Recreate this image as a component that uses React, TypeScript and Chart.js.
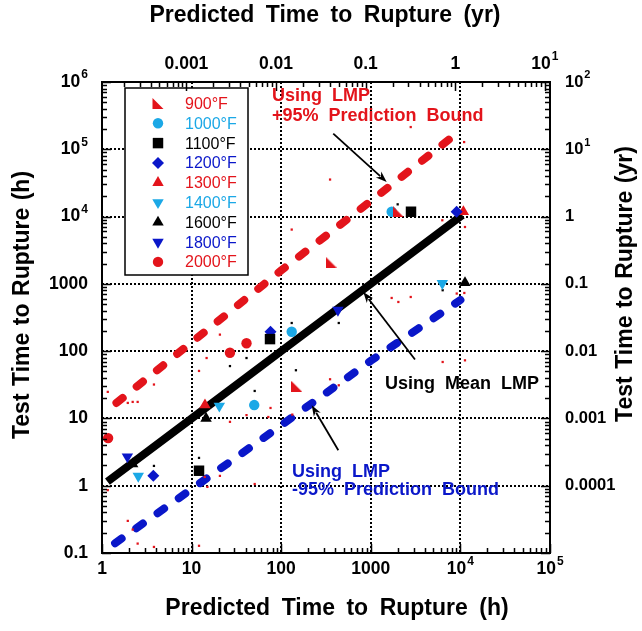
import React, { useEffect, useRef } from "react";
import { Chart, registerables } from "chart.js";

Chart.register(...registerables);

const HOURS_PER_YEAR = 8760;

const RED = "#e3141b";
const CYAN = "#1ba8e6";
const BLUE = "#0a17c9";
const BLACK = "#000000";
const FONT = '"Liberation Sans", Arial, Helvetica, sans-serif';

// Mean LMP line and the +/-95% prediction bounds (predicted h -> test h)
const meanPredicted = [1.15, 10, 100, 1000, 10500];
const meanTest = [1.15, 10, 100, 1000, 10500];
const upperPredicted = [1.45, 10, 100, 1000, 10000];
const upperTest = [17, 135, 1585, 17000, 190000];
const lowerPredicted = [1.4, 10, 100, 1000, 10000];
const lowerTest = [0.14, 0.89, 7.9, 72, 575];

// Rupture tests by temperature: predicted time (h) and test time (h)
const temperatures = ["900°F", "1000°F", "1100°F", "1200°F", "1300°F", "1400°F", "1600°F", "1800°F", "2000°F"];
const pred900 = [149, 2030, 360];
const test900 = [30, 11800, 2100];
const pred1000 = [131, 50, 1710];
const test1000 = [194, 15.8, 11800];
const pred1100 = [75, 12.1, 2810];
const test1100 = [151, 1.67, 11800];
const pred1200 = [76, 3.74, 9080];
const test1200 = [194, 1.41, 11800];
const pred1300 = [14.1, 10800];
const test1300 = [15.8, 11800];
const pred1400 = [20.4, 2.54, 6280];
const test1400 = [15.3, 1.39, 1016];
const pred1600 = [14.5, 2.2, 11250];
const test1600 = [10, 2.1, 1037];
const pred1800 = [430, 1.92];
const test1800 = [408, 2.7];
const pred2000 = [41, 26.8, 1.17];
const test2000 = [131, 94.6, 5.1];

// Small companion points
const smallRedPredicted = [2790, 351, 131, 11000, 6280, 11250, 20.7, 14.7, 12.1, 3.8, 1.94, 2.2, 2.5, 76, 41, 71.8, 26.8, 351, 439, 133, 20.7, 15, 50.6, 1.94, 2.2, 2.5, 3.8, 12.1, 14, 1710, 2030, 2790, 9100, 11060, 6340, 11250, 1.16, 1.16];
const smallRedTest = [214000, 35500, 6410, 128000, 8810, 7000, 176, 79, 50.8, 31.9, 17, 17.6, 17.6, 14.3, 11.2, 10.5, 8.9, 38.2, 31.1, 11.4, 1.4, 0.96, 1.06, 0.3, 0.223, 0.138, 0.123, 0.128, 1.35, 617, 538, 638, 718, 732, 69, 73, 24.8, 0.86];
const smallBlackPredicted = [1995, 131, 439, 41, 26.8, 146, 50.6, 12.1, 3.8, 6340];
const smallBlackTest = [15200, 262, 262, 79, 60, 52, 25.6, 2.59, 1.97, 804];

// Axis labels
const hourTicks = [1, 10, 100, 1000, 1e4, 1e5];
const hourTickLabels = ["1", "10", "100", "1000", "10^4", "10^5"];
const testTicks = [0.1, 1, 10, 100, 1000, 1e4, 1e5, 1e6];
const testTickLabels = ["0.1", "1", "10", "100", "1000", "10^4", "10^5", "10^6"];
const yearTopTicks = [0.001, 0.01, 0.1, 1, 10];
const yearTopTickLabels = ["0.001", "0.01", "0.1", "1", "10^1"];
const yearRightTicks = [1e-4, 1e-3, 0.01, 0.1, 1, 10, 100];
const yearRightTickLabels = ["0.0001", "0.001", "0.01", "0.1", "1", "10^1", "10^2"];

type Shape = "corner" | "circle" | "rect" | "diamond" | "up" | "down";
const seriesPredicted = [pred900, pred1000, pred1100, pred1200, pred1300, pred1400, pred1600, pred1800, pred2000];
const seriesTest = [test900, test1000, test1100, test1200, test1300, test1400, test1600, test1800, test2000];
const seriesColors = [RED, CYAN, BLACK, BLUE, RED, CYAN, BLACK, BLUE, RED];
const seriesShapes: Shape[] = ["corner", "circle", "rect", "diamond", "up", "down", "up", "down", "circle"];

const pts = (xs: number[], ys: number[]) => xs.map((x, i) => ({ x, y: ys[i] }));

function cornerTriangle(color: string, s = 11) {
  const c = document.createElement("canvas");
  c.width = s;
  c.height = s;
  const g = c.getContext("2d")!;
  g.fillStyle = color;
  g.beginPath();
  g.moveTo(0, 0);
  g.lineTo(0, s);
  g.lineTo(s, s);
  g.closePath();
  g.fill();
  return c;
}

function markerStyle(shape: Shape, color: string) {
  switch (shape) {
    case "corner":
      return { pointStyle: cornerTriangle(color), pointRadius: 5, pointRotation: 0 };
    case "circle":
      return { pointStyle: "circle", pointRadius: 5.2, pointRotation: 0 };
    case "rect":
      return { pointStyle: "rect", pointRadius: 7.4, pointRotation: 0 };
    case "diamond":
      return { pointStyle: "rectRot", pointRadius: 6, pointRotation: 0 };
    case "up":
      return { pointStyle: "triangle", pointRadius: 6.6, pointRotation: 0 };
    default:
      return { pointStyle: "triangle", pointRadius: 6.6, pointRotation: 180 };
  }
}

function drawShape(ctx: CanvasRenderingContext2D, shape: Shape, x: number, y: number, color: string) {
  ctx.save();
  ctx.fillStyle = color;
  ctx.beginPath();
  if (shape === "circle") {
    ctx.arc(x, y, 5.2, 0, Math.PI * 2);
  } else if (shape === "rect") {
    const h = 7.4 * Math.SQRT1_2;
    ctx.rect(x - h, y - h, 2 * h, 2 * h);
  } else if (shape === "diamond") {
    ctx.moveTo(x - 6, y);
    ctx.lineTo(x, y - 6);
    ctx.lineTo(x + 6, y);
    ctx.lineTo(x, y + 6);
  } else if (shape === "up" || shape === "down") {
    const r = 6.6;
    const s = shape === "up" ? 1 : -1;
    ctx.moveTo(x, y - s * r);
    ctx.lineTo(x + 0.866 * r, y + s * 0.5 * r);
    ctx.lineTo(x - 0.866 * r, y + s * 0.5 * r);
  } else {
    ctx.moveTo(x - 5.5, y - 5.5);
    ctx.lineTo(x - 5.5, y + 5.5);
    ctx.lineTo(x + 5.5, y + 5.5);
  }
  ctx.closePath();
  ctx.fill();
  ctx.restore();
}

function logTicks(min: number, max: number) {
  const out: { v: number; major: boolean }[] = [];
  for (let d = Math.floor(Math.log10(min)) - 1; d <= Math.ceil(Math.log10(max)); d++) {
    for (let m = 1; m <= 9; m++) {
      const v = m * Math.pow(10, d);
      if (v >= min * 0.9999 && v <= max * 1.0001) out.push({ v, major: m === 1 });
    }
  }
  return out;
}

function drawNumber(ctx: CanvasRenderingContext2D, label: string, x: number, y: number, align: "left" | "right" | "center", size: number) {
  const [base, exp] = label.split("^");
  const mainFont = `bold ${size}px ${FONT}`;
  const supFont = `bold ${Math.round(size * 0.68)}px ${FONT}`;
  ctx.font = mainFont;
  const wb = ctx.measureText(base).width;
  let ws = 0;
  if (exp) {
    ctx.font = supFont;
    ws = ctx.measureText(exp).width + 1;
  }
  const total = wb + ws;
  const x0 = align === "left" ? x : align === "right" ? x - total : x - total / 2;
  ctx.textAlign = "left";
  ctx.textBaseline = "middle";
  ctx.fillStyle = BLACK;
  ctx.font = mainFont;
  ctx.fillText(base, x0, y);
  if (exp) {
    ctx.font = supFont;
    ctx.fillText(exp, x0 + wb + 1, y - size * 0.4);
  }
}

// Draws a title centred on (0, 0) of the current transform, with a fixed gap between words
function drawTitle(ctx: CanvasRenderingContext2D, text: string, gap: number) {
  const words = text.split(" ");
  const widths = words.map((w) => ctx.measureText(w).width);
  const total = widths.reduce((a, b) => a + b, 0) + gap * (words.length - 1);
  let x = -total / 2;
  ctx.textAlign = "left";
  ctx.textBaseline = "middle";
  words.forEach((w, i) => {
    ctx.fillText(w, x, 0);
    x += widths[i] + gap;
  });
}

function drawArrow(ctx: CanvasRenderingContext2D, x1: number, y1: number, x2: number, y2: number) {
  const a = Math.atan2(y2 - y1, x2 - x1);
  const len = 11;
  const half = 4;
  ctx.save();
  ctx.strokeStyle = BLACK;
  ctx.fillStyle = BLACK;
  ctx.lineWidth = 1.8;
  ctx.beginPath();
  ctx.moveTo(x1, y1);
  ctx.lineTo(x2 - Math.cos(a) * len * 0.8, y2 - Math.sin(a) * len * 0.8);
  ctx.stroke();
  ctx.beginPath();
  ctx.moveTo(x2, y2);
  ctx.lineTo(x2 - Math.cos(a) * len - Math.sin(a) * half, y2 - Math.sin(a) * len + Math.cos(a) * half);
  ctx.lineTo(x2 - Math.cos(a) * len * 0.7, y2 - Math.sin(a) * len * 0.7);
  ctx.lineTo(x2 - Math.cos(a) * len + Math.sin(a) * half, y2 - Math.sin(a) * len - Math.cos(a) * half);
  ctx.closePath();
  ctx.fill();
  ctx.restore();
}

const decor = {
  id: "decor",
  beforeDraw(chart: any) {
    const { ctx, width, height } = chart;
    ctx.save();
    ctx.fillStyle = "#ffffff";
    ctx.fillRect(0, 0, width, height);
    ctx.restore();
  },
  beforeDatasetsDraw(chart: any) {
    const { ctx, chartArea } = chart;
    const { left, right, top, bottom } = chartArea;
    const xs = chart.scales.x;
    const ys = chart.scales.y;
    ctx.save();
    ctx.strokeStyle = BLACK;
    ctx.lineWidth = 2;
    ctx.setLineDash([2, 2]);
    hourTicks.slice(1, -1).forEach((v) => {
      const px = Math.round(xs.getPixelForValue(v));
      ctx.beginPath();
      ctx.moveTo(px, top);
      ctx.lineTo(px, bottom);
      ctx.stroke();
    });
    testTicks.slice(1, -1).forEach((v) => {
      const py = Math.round(ys.getPixelForValue(v));
      ctx.beginPath();
      ctx.moveTo(left, py);
      ctx.lineTo(right, py);
      ctx.stroke();
    });
    ctx.restore();
  },
  afterDatasetsDraw(chart: any) {
    const { ctx, chartArea } = chart;
    const { left, right, top, bottom } = chartArea;
    const xs = chart.scales.x;
    const ys = chart.scales.y;
    const xYear = chart.scales.xYear;
    const yYear = chart.scales.yYear;

    // legend
    ctx.save();
    const lx = left + 23;
    const ly = top + 6;
    ctx.fillStyle = "#ffffff";
    ctx.fillRect(lx, ly, 123, 187);
    ctx.strokeStyle = BLACK;
    ctx.lineWidth = 1.5;
    ctx.strokeRect(lx, ly, 123, 187);
    temperatures.forEach((t, i) => {
      const ry = ly + 15.5 + i * 19.8;
      drawShape(ctx, seriesShapes[i], lx + 33, ry, seriesColors[i]);
      ctx.fillStyle = seriesColors[i];
      ctx.font = `16px ${FONT}`;
      ctx.textAlign = "left";
      ctx.textBaseline = "middle";
      ctx.fillText(t, lx + 60, ry + 1);
    });
    ctx.restore();

    // frame and inward ticks
    ctx.save();
    ctx.strokeStyle = BLACK;
    ctx.lineWidth = 2;
    ctx.strokeRect(left, top, right - left, bottom - top);
    ctx.lineWidth = 1.5;
    ctx.beginPath();
    logTicks(xs.min, xs.max).forEach(({ v, major }) => {
      const px = Math.round(xs.getPixelForValue(v)) + 0.5;
      ctx.moveTo(px, bottom);
      ctx.lineTo(px, bottom - (major ? 9 : 5));
    });
    logTicks(xYear.min, xYear.max).forEach(({ v, major }) => {
      const px = Math.round(xYear.getPixelForValue(v)) + 0.5;
      ctx.moveTo(px, top);
      ctx.lineTo(px, top + (major ? 9 : 5));
    });
    logTicks(ys.min, ys.max).forEach(({ v, major }) => {
      const py = Math.round(ys.getPixelForValue(v)) + 0.5;
      ctx.moveTo(left, py);
      ctx.lineTo(left + (major ? 9 : 5), py);
    });
    logTicks(yYear.min, yYear.max).forEach(({ v, major }) => {
      const py = Math.round(yYear.getPixelForValue(v)) + 0.5;
      ctx.moveTo(right, py);
      ctx.lineTo(right - (major ? 9 : 5), py);
    });
    ctx.stroke();

    // tick labels
    hourTicks.forEach((v, i) => drawNumber(ctx, hourTickLabels[i], xs.getPixelForValue(v), bottom + 16, "center", 17.5));
    testTicks.forEach((v, i) => drawNumber(ctx, testTickLabels[i], left - 14, ys.getPixelForValue(v), "right", 17.5));
    yearTopTicks.forEach((v, i) => drawNumber(ctx, yearTopTickLabels[i], xYear.getPixelForValue(v), top - 18, "center", 17.5));
    yearRightTicks.forEach((v, i) => drawNumber(ctx, yearRightTickLabels[i], right + 15, yYear.getPixelForValue(v), "left", 16.5));

    // axis titles
    ctx.fillStyle = BLACK;
    ctx.font = `bold 23px ${FONT}`;
    ctx.save();
    ctx.translate(337, 609);
    drawTitle(ctx, "Predicted Time to Rupture (h)", 11.5);
    ctx.restore();
    ctx.save();
    ctx.translate(325, 16);
    drawTitle(ctx, "Predicted Time to Rupture (yr)", 11.5);
    ctx.restore();
    ctx.save();
    ctx.translate(23, 305);
    ctx.rotate(-Math.PI / 2);
    drawTitle(ctx, "Test Time to Rupture (h)", 7.5);
    ctx.restore();
    ctx.save();
    ctx.translate(626, 284);
    ctx.rotate(-Math.PI / 2);
    drawTitle(ctx, "Test Time to Rupture (yr)", 7.5);
    ctx.restore();

    // annotations
    ctx.font = `bold 18px ${FONT}`;
    ctx.textAlign = "left";
    ctx.textBaseline = "alphabetic";
    ctx.fillStyle = RED;
    ctx.fillText("Using  LMP", 272, 101);
    ctx.fillText("+95%  Prediction  Bound", 272, 121);
    ctx.fillStyle = BLACK;
    ctx.fillText("Using  Mean  LMP", 385, 389);
    ctx.fillStyle = BLUE;
    ctx.fillText("Using  LMP", 292, 477);
    ctx.fillText("-95%  Prediction  Bound", 292, 495);
    ctx.restore();

    const P = (x: number, y: number) => [xs.getPixelForValue(x), ys.getPixelForValue(y)];
    const [a1, b1] = P(381, 171000);
    const [a2, b2] = P(1504, 32700);
    drawArrow(ctx, a1, b1, a2, b2);
    const [c1, d1] = P(3113, 75);
    const [c2, d2] = P(825, 758);
    drawArrow(ctx, c1, d1, c2, d2);
    const [e1, f1] = P(434, 3.37);
    const [e2, f2] = P(219, 15.7);
    drawArrow(ctx, e1, f1, e2, f2);
  },
};

export default function App() {
  const ref = useRef<HTMLCanvasElement>(null);

  useEffect(() => {
    const canvas = ref.current;
    if (!canvas) return;

    const lineBase = { showLine: true, pointRadius: 0, borderWidth: 8, borderJoinStyle: "round", tension: 0, order: 3 };
    const datasets: any[] = [
      { ...lineBase, label: "upper", data: pts(upperPredicted, upperTest), borderColor: RED, borderDash: [8, 18], borderCapStyle: "round" },
      { ...lineBase, label: "lower", data: pts(lowerPredicted, lowerTest), borderColor: BLUE, borderDash: [8, 18], borderCapStyle: "round" },
      { ...lineBase, label: "mean", data: pts(meanPredicted, meanTest), borderColor: BLACK, borderCapStyle: "butt" },
      {
        label: "small red",
        data: pts(smallRedPredicted, smallRedTest),
        pointStyle: "rect",
        pointRadius: 1.6,
        pointBackgroundColor: RED,
        pointBorderWidth: 0,
        order: 2,
      },
      {
        label: "small black",
        data: pts(smallBlackPredicted, smallBlackTest),
        pointStyle: "rect",
        pointRadius: 1.6,
        pointBackgroundColor: BLACK,
        pointBorderWidth: 0,
        order: 2,
      },
      ...temperatures.map((t, i) => ({
        label: t,
        data: pts(seriesPredicted[i], seriesTest[i]),
        ...markerStyle(seriesShapes[i], seriesColors[i]),
        pointBackgroundColor: seriesColors[i],
        pointBorderWidth: 0,
        order: 1,
      })),
    ];

    const chart = new Chart(canvas, {
      type: "scatter",
      data: { datasets },
      options: {
        responsive: false,
        animation: false,
        devicePixelRatio: 1,
        events: [],
        layout: { padding: { left: 102, top: 82, right: 92, bottom: 78 } },
        plugins: { legend: { display: false }, tooltip: { enabled: false } },
        scales: {
          x: { type: "logarithmic", min: 1, max: 1e5, display: false },
          y: { type: "logarithmic", min: 0.1, max: 1e6, display: false },
          xYear: { type: "logarithmic", axis: "x", position: "top", min: 1 / HOURS_PER_YEAR, max: 1e5 / HOURS_PER_YEAR, display: false },
          yYear: { type: "logarithmic", axis: "y", position: "right", min: 1e-5, max: 100, display: false },
        },
      } as any,
      plugins: [decor],
    });

    return () => chart.destroy();
  }, []);

  return (
    <div style={{ position: "fixed", left: 0, top: 0, width: 642, height: 631, background: "#ffffff" }}>
      <canvas ref={ref} width={642} height={631} style={{ display: "block", width: 642, height: 631 }} />
    </div>
  );
}
